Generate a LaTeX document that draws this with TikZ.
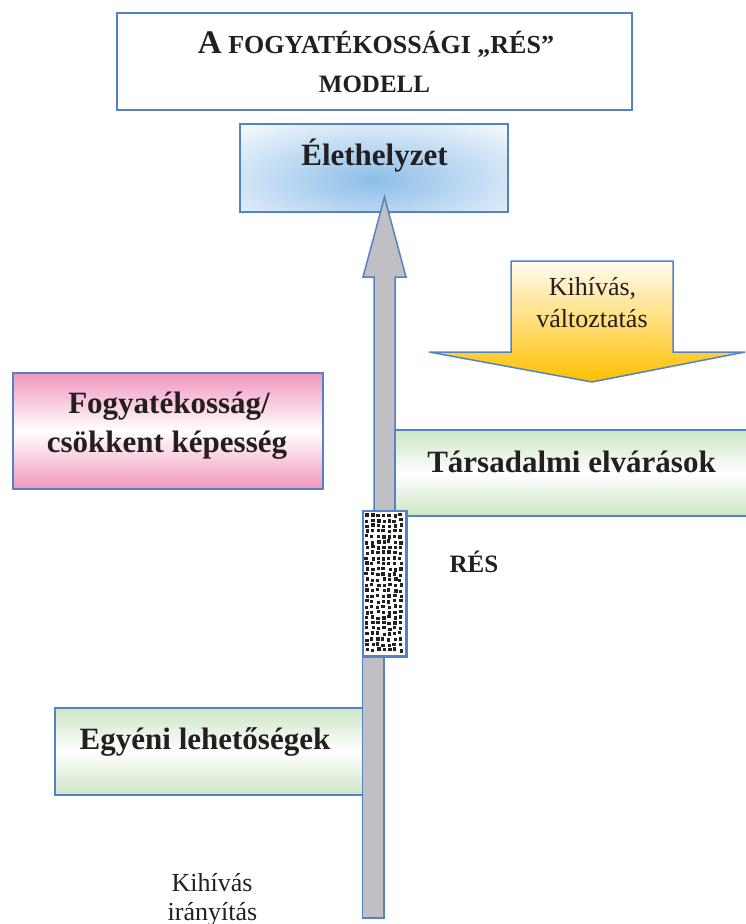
\documentclass[tikz,border=0pt]{standalone}
\usepackage{fontspec}
\setmainfont{Liberation Serif}
\usepackage{tikz}
\usetikzlibrary{positioning,calc,shapes}
\definecolor{myblue}{RGB}{84,130,196}
\definecolor{mygray}{RGB}{191,191,196}
\definecolor{mygreen}{RGB}{204,230,196}
\definecolor{mypink}{RGB}{240,150,190}
\definecolor{myyellow}{RGB}{255,192,0}
\definecolor{mycream}{RGB}{255,251,242}
\definecolor{mysky}{RGB}{140,190,232}
\definecolor{myink}{RGB}{35,31,32}
\tikzstyle{box}=[draw=myblue,line width=1.5pt,inner sep=0pt,fill=white]
\tikzstyle{greenbox}=[box,top color=mygreen,bottom color=mygreen,middle color=white]
\tikzstyle{pinkbox}=[box,top color=mypink,bottom color=mypink,middle color=white]
\tikzstyle{txt}=[text=myink,inner sep=0pt,anchor=base]
\tikzstyle{bigtxt}=[txt,font=\fontsize{31}{36}\selectfont\bfseries]
\tikzstyle{smalltxt}=[txt,font=\fontsize{26}{30}\selectfont]

\begin{document}
\begin{tikzpicture}[x=1pt,y=-1pt]
\tikzstyle{block}=[draw=myblue,line width=1.5pt,line join=miter]
\clip (0,0) rectangle (746,924);

\node (Title) [box,minimum width=515pt,minimum height=97pt] at (374.5,61.5) {};
\node (TitleA) [txt,font=\bfseries\fontsize{26}{30}\selectfont] at (376,53) {{\fontsize{33}{36}\selectfont A} FOGYATÉKOSSÁGI „RÉS”};
\node (TitleB) [txt,font=\bfseries\fontsize{25}{30}\selectfont] at (374.5,92) {MODELL};

\node (Elet) [box,minimum width=268pt,minimum height=88pt,
  path picture={\shade[inner color=mysky,outer color=white]
    ([yshift=-12pt]path picture bounding box.center) ellipse (220pt and 80pt);}] at (374,168) {};
\node (EletT) [bigtxt] at (374.5,165) {Élethelyzet};

\draw[block,fill=mygray] (374,511) -- (374,277) -- (363,277) -- (384.5,197) -- (406,277) -- (395,277) -- (395,511);

\draw[block,top color=mycream,bottom color=myyellow] (511,261) -- (673,261) -- (673,352) -- (745,352)
  -- (592,382) -- (429,352) -- (511,352) -- cycle;
\node (Valt1) [smalltxt] at (592.5,295) {Kihívás,};
\node (Valt2) [smalltxt] at (592,327) {változtatás};

\node (Fogy) [pinkbox,minimum width=310pt,minimum height=116pt] at (168,431) {};
\node (Fogy1) [bigtxt] at (169,413) {Fogyatékosság/};
\node (Fogy2) [bigtxt] at (167,452) {csökkent képesség};

\node (Tars) [greenbox,minimum width=375pt,minimum height=86pt] at (582.5,473) {};
\node (TarsT) [bigtxt] at (571.5,472) {Társadalmi elvárások};

\node (Res) [box,minimum width=43pt,minimum height=145pt] at (384.5,583.5) {};
\pgfmathsetseed{42}
\foreach \i in {0,...,6}
  \foreach \j in {0,...,25}
    \fill[myink] ({365.3+\i*5.6+rand*1},{513.3+\j*5.4+rand*1}) rectangle ++(3.3,3.3);
\draw[block] (Res.north west) rectangle (Res.south east);
\node (ResT) [txt,font=\fontsize{25}{30}\selectfont\bfseries] at (474,572) {RÉS};

\node (Egy) [greenbox,minimum width=309pt,minimum height=87pt] at (209.5,751.5) {};
\node (EgyT) [bigtxt] at (205,749) {Egyéni lehetőségek};

\draw[block,fill=mygray] (Res.south west) rectangle (384,918);

\node (Ir1) [smalltxt] at (212,891) {Kihívás};
\node (Ir2) [smalltxt] at (212.5,920) {irányítás};
\end{tikzpicture}
\end{document}
